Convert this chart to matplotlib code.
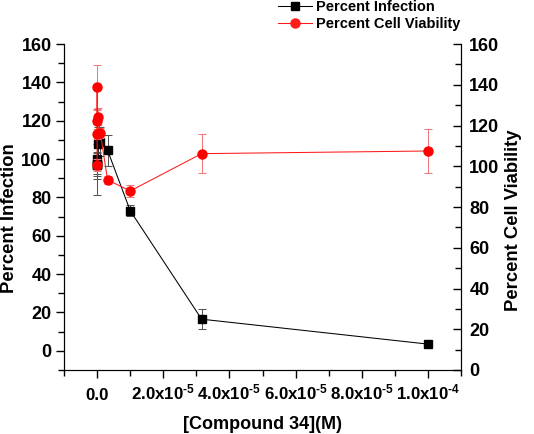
import numpy as np
import matplotlib
matplotlib.use("Agg")
from matplotlib import pyplot as plt
from matplotlib.lines import Line2D
from matplotlib.ticker import MultipleLocator, FuncFormatter

plt.rcParams['font.family'] = ['Liberation Sans', 'DejaVu Sans']
plt.rcParams['font.weight'] = 'bold'
plt.rcParams['mathtext.fontset'] = 'custom'
plt.rcParams['mathtext.rm'] = 'Liberation Sans:bold'
plt.rcParams['mathtext.it'] = 'Liberation Sans:bold'
plt.rcParams['mathtext.bf'] = 'Liberation Sans:bold'

# data (concentration in M)
conc = [1e-4, 3.16e-5, 1e-5, 3.16e-6, 1e-6, 3.16e-7, 1e-7, 3.16e-8, 1e-8, 3.16e-9]
infection = [3.5, 16.5, 73.1, 104.6, 109.1, 107.7, 97.3, 100.0, 96.8, 97.0]
infection_err = [0.8, 5.2, 3.0, 8.0, 7.5, 9.0, 16.0, 8.0, 7.0, 6.0]
viability = [107.5, 106.2, 87.9, 93.3, 116.2, 124.4, 116.0, 122.0, 138.8, 100.5]
viability_err = [11.0, 9.5, 2.8, 2.0, 2.4, 4.0, 2.5, 6.0, 11.0, 3.0]

black = 'k'
red = '#ff1a1a'

fig = plt.figure(figsize=(5.34, 4.34), dpi=100)
ax = fig.add_axes([0.1199, 0.1475, 0.7434, 0.751])
ax2 = ax.twinx()

ax.errorbar(conc, infection, yerr=infection_err, color=black, lw=0.75,
            marker='s', ms=5.8, ecolor='#555555', elinewidth=0.75, capsize=3,
            capthick=0.75, zorder=3)
ax2.errorbar(conc, viability, yerr=viability_err, color=red, lw=0.75,
             marker='o', ms=6.5, mfc='red', mec='red', ecolor='#f07878',
             elinewidth=0.75, capsize=3, capthick=0.75, zorder=3)

ax.set_xlim(-1e-5, 1.1e-4)
ax.set_ylim(-10, 160)
ax2.set_ylim(0, 160)

ax.xaxis.set_major_locator(MultipleLocator(2e-5))
ax.xaxis.set_minor_locator(MultipleLocator(1e-5))

def xfmt(v, pos):
    if abs(v) < 1e-12:
        return '0.0'
    if v < 0:
        return ''
    e = int(np.floor(np.log10(v) + 1e-9))
    m = v / 10 ** e
    return r'%.1fx10$^{\text{%d}}$' % (m, e)

ax.xaxis.set_major_formatter(FuncFormatter(xfmt))
for a in (ax, ax2):
    a.yaxis.set_major_locator(MultipleLocator(20))
    a.yaxis.set_minor_locator(MultipleLocator(10))
    a.spines['top'].set_visible(False)
ax.tick_params(which='major', direction='out', length=6, width=1, labelsize=13, pad=3)
ax.tick_params(which='minor', direction='out', length=4, width=1)
ax.tick_params(axis='x', labelsize=12.2, pad=15.5)
ax2.tick_params(which='major', direction='in', length=6, width=1, labelsize=13, pad=6)
ax2.tick_params(which='minor', direction='in', length=4, width=1)

# put every x tick label on the same baseline
for t in ax.xaxis.get_major_ticks():
    t.label1.set_verticalalignment('baseline')

ax.set_xlabel('[Compound 34](M)', fontsize=13, fontweight='bold')
ax.xaxis.set_label_coords(0.5, -0.14)
ax.set_ylabel('Percent Infection', fontsize=13.3, fontweight='bold')
ax.yaxis.set_label_coords(-0.117, 0.466)
ax2.set_ylabel('Percent Cell Viability', fontsize=13.3, fontweight='bold')
ax2.yaxis.set_label_coords(1.111, 0.46)

handles = [Line2D([], [], color=black, lw=0.75, marker='s', ms=5.8),
           Line2D([], [], color=red, lw=0.75, marker='o', ms=6.5)]
fig.legend(handles, ['Percent Infection', 'Percent Cell Viability'],
           loc='upper left', bbox_to_anchor=(0.5206, 1.0), frameon=False,
           fontsize=10.5, handlelength=2.33, handletextpad=0.3,
           labelspacing=0.23, borderpad=0, borderaxespad=0)

fig.savefig('out.png', dpi=100)
